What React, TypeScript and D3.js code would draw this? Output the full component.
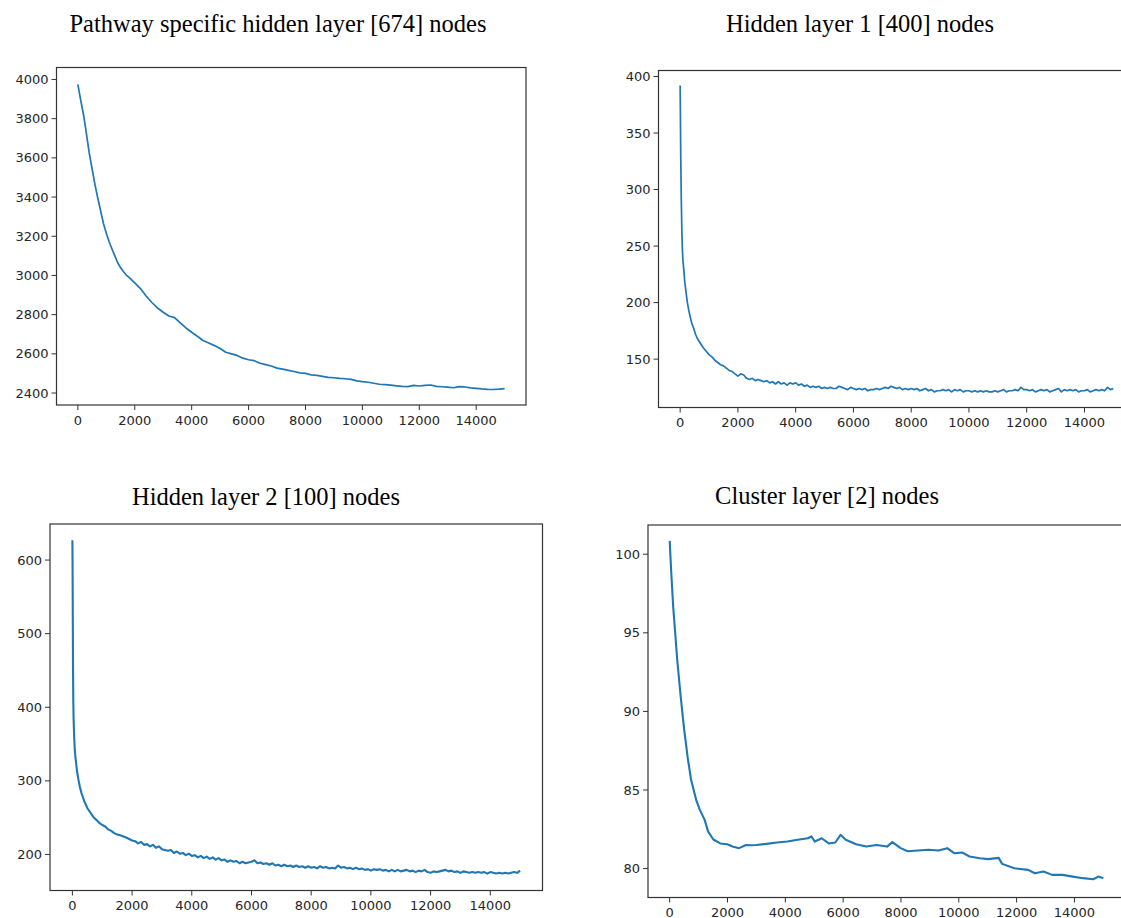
import React from "react";
import * as d3 from "d3";

// ---------- data ----------
const titles = [
  "Pathway specific hidden layer [674] nodes",
  "Hidden layer 1 [400] nodes",
  "Hidden layer 2 [100] nodes",
  "Cluster layer [2] nodes",
];

const xTicks = [0, 2000, 4000, 6000, 8000, 10000, 12000, 14000];
const yTicks1 = [2400, 2600, 2800, 3000, 3200, 3400, 3600, 3800, 4000];
const yTicks2 = [150, 200, 250, 300, 350, 400];
const yTicks3 = [200, 300, 400, 500, 600];
const yTicks4 = [80, 85, 90, 95, 100];

const steps1 = [0, 100, 200, 300, 400, 500, 600, 700, 800, 900, 1000, 1100, 1200, 1300, 1400, 1500, 1600, 1700, 1800, 1900, 2000, 2200, 2400, 2600, 2800, 3000, 3200, 3400, 3600, 3800, 4000, 4200, 4400, 4600, 4800, 5000, 5200, 5400, 5600, 5800, 6000, 6200, 6400, 6600, 6800, 7000, 7200, 7400, 7600, 7800, 8000, 8200, 8400, 8600, 8800, 9000, 9200, 9400, 9600, 9800, 10000, 10200, 10400, 10600, 10800, 11000, 11200, 11400, 11600, 11800, 12000, 12200, 12400, 12600, 12800, 13000, 13200, 13400, 13600, 13800, 14000, 14200, 14400, 14600, 14800, 15000];
const loss1 = [3975, 3895, 3820, 3725, 3625, 3545, 3465, 3395, 3330, 3265, 3215, 3172, 3135, 3100, 3065, 3040, 3020, 3002, 2990, 2976, 2962, 2933, 2895, 2862, 2834, 2812, 2793, 2785, 2758, 2732, 2710, 2690, 2668, 2655, 2642, 2627, 2608, 2600, 2592, 2578, 2570, 2565, 2552, 2545, 2538, 2527, 2522, 2516, 2510, 2503, 2500, 2493, 2490, 2485, 2480, 2478, 2475, 2473, 2470, 2462, 2458, 2455, 2450, 2445, 2443, 2440, 2437, 2434, 2433, 2439, 2436, 2439, 2441, 2434, 2432, 2430, 2427, 2433, 2431, 2426, 2424, 2421, 2419, 2418, 2420, 2423];

// Hidden layer 1: early epochs, then every 100 epochs from 2000 to 15000
const steps2Head = [0, 20, 40, 60, 80, 100, 130, 160, 200, 250, 300, 350, 400, 470, 530, 600, 700, 800, 900, 1000, 1100, 1200, 1300, 1400, 1500, 1600, 1700, 1800, 1900];
const loss2Head = [392, 330, 290, 262, 245, 236, 228, 218, 210, 200, 193, 187, 182, 177, 172, 168, 164, 160, 157, 154, 152, 149, 147, 145, 144, 142, 140, 139, 137];
const loss2Tail = [
  135, 137, 136, 133, 132, 133, 131, 132, 131, 130,
  131, 129, 130, 128, 130, 128, 129, 127, 129, 128,
  129, 127, 128, 126, 127, 125, 126, 125, 126, 124,
  125, 124, 125, 124, 124, 126, 125, 124, 123, 125,
  124, 123, 124, 123, 124, 122, 123, 123, 124, 123,
  124, 125, 124, 126, 125, 124, 125, 123, 124, 123,
  124, 123, 124, 122, 123, 124, 122, 123, 121, 122,
  122, 123, 122, 123, 121, 123, 122, 123, 121, 122,
  122, 121, 122, 121, 122, 121, 122, 121, 121, 122,
  121, 122, 123, 121, 122, 122, 123, 122, 125, 123,
  123, 122, 123, 121, 122, 123, 122, 123, 121, 122,
  123, 124, 121, 123, 122, 123, 122, 123, 121, 122,
  122, 123, 121, 122, 123, 122, 123, 122, 125, 123,
  124,
];

// Hidden layer 2
const steps3Head = [0, 5, 10, 15, 20, 30, 40, 60, 80, 100, 130, 160, 200, 250, 300, 350, 400, 450, 500, 600, 700, 800, 900, 1000, 1100, 1200, 1300, 1400, 1500, 1600, 1800];
const loss3Head = [627, 600, 560, 510, 462, 410, 385, 360, 342, 333, 322, 312, 302, 292, 284, 278, 272, 268, 263, 257, 251, 247, 243, 240, 238, 234, 232, 229, 227, 226, 223];
const loss3Tail = [
  219, 218, 215, 217, 213, 214, 211, 213, 209, 211,
  207, 206, 205, 206, 202, 204, 201, 202, 199, 201,
  198, 199, 196, 198, 195, 197, 194, 196, 193, 195,
  192, 193, 190, 192, 190, 191, 188, 190, 188, 189,
  190, 192, 188, 189, 187, 188, 186, 188, 185, 186,
  184, 186, 184, 185, 183, 185, 183, 184, 182, 184,
  182, 183, 181, 184, 182, 183, 181, 182, 181, 185,
  182, 183, 181, 182, 180, 182, 180, 181, 179, 180,
  178, 180, 179, 180, 178, 179, 177, 179, 177, 179,
  177, 178, 179, 177, 178, 176, 178, 177, 179, 176,
  175, 177, 176, 177, 178, 179, 177, 178, 176, 177,
  175, 177, 176, 175, 176, 175, 176, 175, 176, 174,
  176, 175, 174, 175, 174, 175, 174, 175, 176, 175,
  178,
];

// Cluster layer
const steps4 = [0, 50, 120, 260, 380, 500, 620, 740, 920, 1040, 1210, 1330, 1510, 1750, 1990, 2170, 2400, 2640, 2820, 3000, 3350, 3710, 4070, 4430, 4780, 4900, 5020, 5260, 5500, 5730, 5910, 6090, 6450, 6800, 7160, 7520, 7700, 7990, 8230, 8590, 8950, 9300, 9600, 9840, 10130, 10370, 10730, 11020, 11380, 11500, 11920, 12400, 12630, 12930, 13230, 13590, 13940, 14300, 14650, 14830, 15000];
const loss4 = [100.85, 99.0, 96.7, 93.3, 90.95, 88.85, 87.1, 85.65, 84.35, 83.75, 83.1, 82.35, 81.85, 81.6, 81.55, 81.4, 81.3, 81.5, 81.48, 81.5, 81.57, 81.66, 81.72, 81.83, 81.93, 82.05, 81.72, 81.93, 81.6, 81.66, 82.15, 81.83, 81.55, 81.4, 81.5, 81.4, 81.68, 81.3, 81.1, 81.15, 81.2, 81.15, 81.3, 80.98, 81.02, 80.77, 80.66, 80.6, 80.68, 80.3, 80.02, 79.92, 79.7, 79.81, 79.6, 79.6, 79.49, 79.39, 79.32, 79.49, 79.39];

const tailSteps = d3.range(2000, 15001, 100);
const steps2 = steps2Head.concat(tailSteps);
const loss2 = loss2Head.concat(loss2Tail);
const steps3 = steps3Head.concat(tailSteps);
const loss3 = loss3Head.concat(loss3Tail);

// ---------- layout ----------
const W = 1121;
const H = 918;

type Panel = {
  title: string;
  titleX: number;
  titleY: number;
  x0: number; x1: number; y0: number; y1: number;
  yDomain: [number, number];
  yTicks: number[];
  steps: number[];
  loss: number[];
  lineW: number;
};

const panels: Panel[] = [
  { title: titles[0], titleX: 278, titleY: 32, x0: 56.5, x1: 526, y0: 67.5, y1: 405, yDomain: [2339, 4061], yTicks: yTicks1, steps: steps1, loss: loss1, lineW: 1.7 },
  { title: titles[1], titleX: 860, titleY: 32, x0: 658.5, x1: 1135, y0: 70.5, y1: 407.5, yDomain: [107.2, 405.3], yTicks: yTicks2, steps: steps2, loss: loss2, lineW: 1.7 },
  { title: titles[2], titleX: 266, titleY: 505, x0: 50, x1: 542.5, y0: 524, y1: 890.5, yDomain: [151, 649], yTicks: yTicks3, steps: steps3, loss: loss3, lineW: 2.1 },
  { title: titles[3], titleX: 827, titleY: 504, x0: 648, x1: 1125, y0: 525, y1: 897.5, yDomain: [78.16, 101.86], yTicks: yTicks4, steps: steps4, loss: loss4, lineW: 2.1 },
];

const AX = "#333";
const LINE = "#1f77b4";
const TICKFONT = "'DejaVu Sans', sans-serif";

function PanelView({ p }: { p: Panel }) {
  const x = d3.scaleLinear().domain([-750, 15750]).range([p.x0, p.x1]);
  const y = d3.scaleLinear().domain(p.yDomain).range([p.y1, p.y0]);
  const line = d3
    .line<number>()
    .x((_, i) => x(p.steps[i]))
    .y((d) => y(d));
  const path = line(p.loss) || "";
  return (
    <g>
      <text
        x={p.titleX}
        y={p.titleY}
        textAnchor="middle"
        fontFamily="'Liberation Serif', 'Times New Roman', serif"
        fontSize={24.5}
        fill="#000"
      >
        {p.title}
      </text>
      <path d={path} fill="none" stroke={LINE} strokeWidth={p.lineW} strokeLinejoin="round" />
      <rect x={p.x0} y={p.y0} width={p.x1 - p.x0} height={p.y1 - p.y0} fill="none" stroke={AX} strokeWidth={1.2} />
      {p.yTicks.map((t) => (
        <g key={"y" + t}>
          <line x1={p.x0 - 5} x2={p.x0} y1={y(t)} y2={y(t)} stroke={AX} strokeWidth={1} />
          <text
            x={p.x0 - 8}
            y={y(t)}
            dy="0.35em"
            textAnchor="end"
            fontFamily={TICKFONT}
            fontSize={13}
            fill="#262626"
          >
            {t}
          </text>
        </g>
      ))}
      {xTicks.map((t) => (
        <g key={"x" + t}>
          <line x1={x(t)} x2={x(t)} y1={p.y1} y2={p.y1 + 5} stroke={AX} strokeWidth={1} />
          <text
            x={x(t)}
            y={p.y1 + 19.5}
            textAnchor="middle"
            fontFamily={TICKFONT}
            fontSize={13}
            fill="#262626"
          >
            {t}
          </text>
        </g>
      ))}
    </g>
  );
}

export default function App() {
  return (
    <svg
      width={W}
      height={H}
      viewBox={`0 0 ${W} ${H}`}
      style={{ position: "absolute", left: 0, top: 0, background: "#fff" }}
    >
      <rect x={0} y={0} width={W} height={H} fill="#fff" />
      {panels.map((p, i) => (
        <PanelView key={i} p={p} />
      ))}
    </svg>
  );
}
